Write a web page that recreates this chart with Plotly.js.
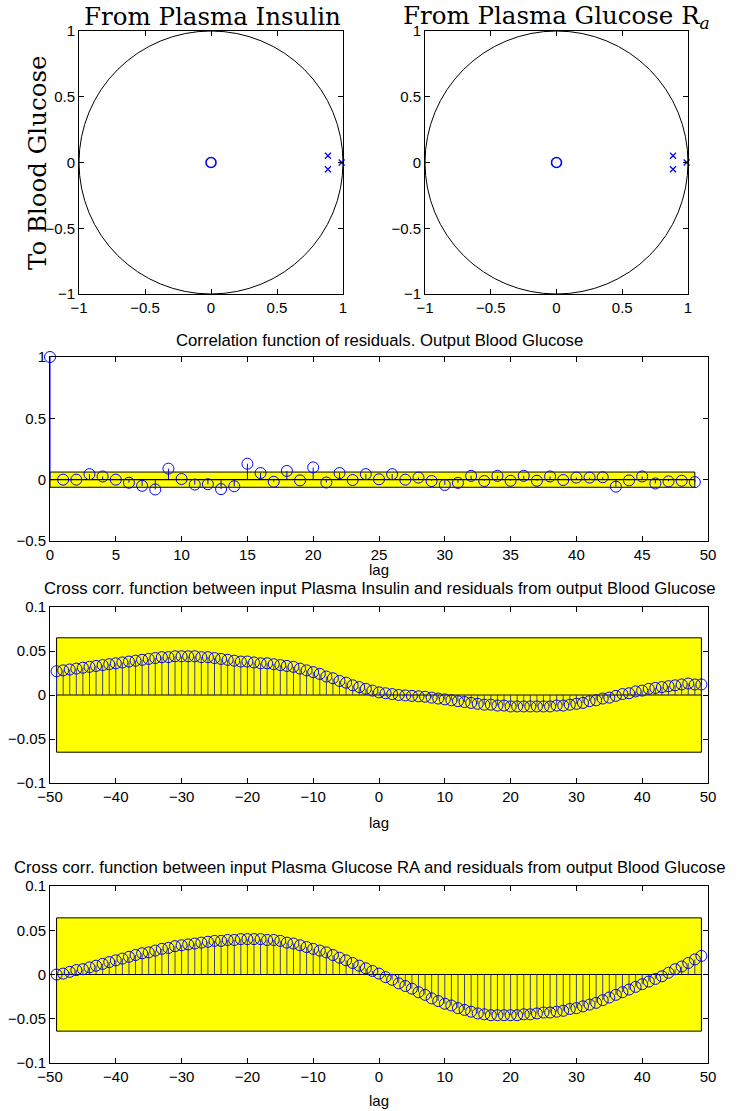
<!DOCTYPE html>
<html>
<head>
<meta charset="utf-8">
<script src="https://cdn.plot.ly/plotly-3.0.1.min.js"></script>
<style>html,body{margin:0;padding:0;background:#fff;}#chart{width:738px;height:1111px;}</style>
</head>
<body>
<div id="chart"></div>
<script>
// ---- Pole-zero data ----
const zerosRe = [0];
const zerosIm = [0];
const polesRe = [0.886, 0.886, 0.99];
const polesIm = [0.051, -0.051, 0];
const pzTicks = [-1, -0.5, 0, 0.5, 1];

// ---- Auto-correlation of residuals ----
const corrLags = [0,1,2,3,4,5,6,7,8,9,10,11,12,13,14,15,16,17,18,19,20,21,22,23,24,25,26,27,28,29,30,31,32,33,34,35,36,37,38,39,40,41,42,43,44,45,46,47,48,49];
const corrVals = [1.0,0.0,0.0,0.045,0.026,0.0,-0.025,-0.05,-0.08,0.09,0.005,-0.04,-0.037,-0.077,-0.054,0.13,0.054,-0.017,0.071,-0.006,0.1,-0.023,0.054,-0.003,0.045,0.003,0.045,0.0,0.017,-0.011,-0.043,-0.026,0.031,-0.011,0.031,-0.009,0.031,-0.009,0.026,-0.003,0.017,0.017,0.02,-0.057,-0.006,0.026,-0.031,-0.014,-0.009,-0.02];
const corrConf = 0.062;

// ---- Cross-correlations ----
const xcLags = [-49,-48,-47,-46,-45,-44,-43,-42,-41,-40,-39,-38,-37,-36,-35,-34,-33,-32,-31,-30,-29,-28,-27,-26,-25,-24,-23,-22,-21,-20,-19,-18,-17,-16,-15,-14,-13,-12,-11,-10,-9,-8,-7,-6,-5,-4,-3,-2,-1,0,1,2,3,4,5,6,7,8,9,10,11,12,13,14,15,16,17,18,19,20,21,22,23,24,25,26,27,28,29,30,31,32,33,34,35,36,37,38,39,40,41,42,43,44,45,46,47,48,49];
const xcInsulinVals = [0.027,0.028,0.029,0.030,0.031,0.032,0.033,0.034,0.035,0.036,0.037,0.038,0.039,0.040,0.041,0.042,0.043,0.043,0.044,0.044,0.044,0.044,0.043,0.043,0.042,0.041,0.040,0.039,0.038,0.038,0.037,0.036,0.036,0.035,0.034,0.033,0.032,0.030,0.028,0.026,0.024,0.021,0.019,0.016,0.014,0.011,0.009,0.007,0.005,0.003,0.002,0.001,0.0,-0.0005,-0.001,-0.0015,-0.002,-0.003,-0.004,-0.005,-0.006,-0.007,-0.008,-0.009,-0.010,-0.011,-0.011,-0.012,-0.012,-0.013,-0.013,-0.013,-0.013,-0.013,-0.013,-0.013,-0.012,-0.012,-0.011,-0.010,-0.009,-0.007,-0.006,-0.004,-0.003,-0.001,0.001,0.002,0.004,0.005,0.007,0.008,0.009,0.010,0.011,0.012,0.013,0.012,0.012];
const xcInsulinConf = 0.065;
const xcGlucoseVals = [0.000,0.001,0.003,0.005,0.006,0.008,0.010,0.012,0.014,0.016,0.018,0.020,0.022,0.024,0.025,0.027,0.029,0.030,0.032,0.033,0.034,0.035,0.036,0.037,0.038,0.038,0.039,0.039,0.040,0.040,0.040,0.040,0.039,0.039,0.038,0.036,0.035,0.033,0.031,0.029,0.027,0.025,0.022,0.019,0.016,0.013,0.010,0.007,0.004,0.001,-0.003,-0.006,-0.010,-0.013,-0.016,-0.020,-0.023,-0.027,-0.030,-0.033,-0.035,-0.038,-0.040,-0.042,-0.044,-0.045,-0.046,-0.046,-0.046,-0.046,-0.046,-0.045,-0.045,-0.044,-0.043,-0.043,-0.042,-0.041,-0.039,-0.038,-0.036,-0.034,-0.032,-0.029,-0.026,-0.023,-0.020,-0.017,-0.014,-0.011,-0.008,-0.005,-0.002,0.002,0.006,0.009,0.013,0.017,0.021];
const xcGlucoseConf = 0.064;

// ---- Text ----
const titlePZ1 = 'From Plasma Insulin';
const titlePZ2 = 'From Plasma Glucose R<sub><i>a</i></sub>';
const ylabPZ = 'To Blood Glucose';
const titleCorr = 'Correlation function of residuals. Output Blood Glucose';
const titleXc1 = 'Cross corr. function between input Plasma Insulin and residuals from output Blood Glucose';
const titleXc2 = 'Cross corr. function between input Plasma Glucose RA and residuals from output Blood Glucose';
const xlabLag = 'lag';

const BLUE = '#0000ff';
const STEM = '#2a2aa0';
const W = 738, H = 1111;
const px = v => v / W;
const py = v => 1 - v / H;

function stems(xs, ys) {
  const sx = [], sy = [];
  xs.forEach((x, i) => { sx.push(x, x, null); sy.push(0, ys[i], null); });
  return { sx, sy };
}

const traces = [];
// pole-zero plots
['', '2'].forEach(s => {
  traces.push({ x: zerosRe, y: zerosIm, xaxis: 'x' + s, yaxis: 'y' + s, type: 'scatter', mode: 'markers',
    marker: { symbol: 'circle-open', size: 10, color: BLUE, line: { width: 1.6, color: BLUE } }, cliponaxis: false, hoverinfo: 'skip' });
  traces.push({ x: polesRe, y: polesIm, xaxis: 'x' + s, yaxis: 'y' + s, type: 'scatter', mode: 'markers',
    marker: { symbol: 'x-thin-open', size: 6, color: BLUE, line: { width: 1.2, color: BLUE } }, cliponaxis: false, hoverinfo: 'skip' });
});

function stemPlot(xs, ys, ax, stemColor, stemWidth) {
  const st = stems(xs, ys);
  traces.push({ x: st.sx, y: st.sy, xaxis: 'x' + ax, yaxis: 'y' + ax, type: 'scatter', mode: 'lines',
    line: { color: stemColor, width: stemWidth }, cliponaxis: false, hoverinfo: 'skip' });
  traces.push({ x: xs, y: ys, xaxis: 'x' + ax, yaxis: 'y' + ax, type: 'scatter', mode: 'markers',
    marker: { symbol: 'circle-open', size: 11, color: BLUE, line: { width: 1, color: BLUE } }, cliponaxis: false, hoverinfo: 'skip' });
}
stemPlot(corrLags, corrVals, '3', BLUE, 1);
stemPlot(xcLags, xcInsulinVals, '4', STEM, 0.9);
stemPlot(xcLags, xcGlucoseVals, '5', STEM, 0.9);

const tickFont = { family: 'Liberation Sans, Arial, sans-serif', size: 15, color: '#000' };
function axis(domain, range, tickvals, anchor, extra) {
  return Object.assign({
    domain: domain, range: range, anchor: anchor, tickvals: tickvals,
    showgrid: false, zeroline: false, showline: true, mirror: 'ticks', linecolor: '#000', linewidth: 1,
    ticks: 'inside', ticklen: 5, tickwidth: 1, tickcolor: '#000', tickfont: tickFont, fixedrange: true
  }, extra || {});
}

const sansTitle = { family: 'Liberation Sans, Arial, sans-serif', size: 16.7, color: '#000' };
const serifTitle = { family: 'DejaVu Serif, serif', size: 24.5, color: '#000' };
const pzY = [py(294), py(31)];
const bandPlotsX = [px(50), px(708)];
const layout = {
  width: W, height: H, margin: { l: 0, r: 0, t: 0, b: 0 },
  paper_bgcolor: '#fff', plot_bgcolor: '#fff', showlegend: false,
  xaxis: axis([px(79), px(343)], [-1, 1], pzTicks, 'y'),
  yaxis: axis(pzY, [-1, 1], pzTicks, 'x'),
  xaxis2: axis([px(425), px(688)], [-1, 1], pzTicks, 'y2'),
  yaxis2: axis(pzY, [-1, 1], pzTicks, 'x2'),
  xaxis3: axis(bandPlotsX, [0, 50], [0,5,10,15,20,25,30,35,40,45,50], 'y3'),
  yaxis3: axis([py(541), py(357)], [-0.5, 1], [-0.5, 0, 0.5, 1], 'x3'),
  xaxis4: axis(bandPlotsX, [-50, 50], [-50,-40,-30,-20,-10,0,10,20,30,40,50], 'y4'),
  yaxis4: axis([py(783), py(607)], [-0.1, 0.1], [-0.1, -0.05, 0, 0.05, 0.1], 'x4'),
  xaxis5: axis(bandPlotsX, [-50, 50], [-50,-40,-30,-20,-10,0,10,20,30,40,50], 'y5'),
  yaxis5: axis([py(1063), py(886)], [-0.1, 0.1], [-0.1, -0.05, 0, 0.05, 0.1], 'x5'),
  shapes: [
    { type: 'circle', xref: 'x', yref: 'y', x0: -1, x1: 1, y0: -1, y1: 1, line: { color: '#000', width: 1 }, layer: 'below' },
    { type: 'circle', xref: 'x2', yref: 'y2', x0: -1, x1: 1, y0: -1, y1: 1, line: { color: '#000', width: 1 }, layer: 'below' },
    { type: 'rect', xref: 'x3', yref: 'y3', x0: corrLags[0], x1: corrLags[corrLags.length - 1], y0: -corrConf, y1: corrConf, fillcolor: '#ffff00', line: { color: '#000', width: 1 }, layer: 'below' },
    { type: 'line', xref: 'x3', yref: 'y3', x0: corrLags[0], x1: corrLags[corrLags.length - 1], y0: 0, y1: 0, line: { color: '#000', width: 1.2 }, layer: 'below' },
    { type: 'rect', xref: 'x4', yref: 'y4', x0: xcLags[0], x1: xcLags[xcLags.length - 1], y0: -xcInsulinConf, y1: xcInsulinConf, fillcolor: '#ffff00', line: { color: '#000', width: 1 }, layer: 'below' },
    { type: 'line', xref: 'x4', yref: 'y4', x0: xcLags[0], x1: xcLags[xcLags.length - 1], y0: 0, y1: 0, line: { color: '#000', width: 1.2 }, layer: 'below' },
    { type: 'rect', xref: 'x5', yref: 'y5', x0: xcLags[0], x1: xcLags[xcLags.length - 1], y0: -xcGlucoseConf, y1: xcGlucoseConf, fillcolor: '#ffff00', line: { color: '#000', width: 1 }, layer: 'below' },
    { type: 'line', xref: 'x5', yref: 'y5', x0: xcLags[0], x1: xcLags[xcLags.length - 1], y0: 0, y1: 0, line: { color: '#000', width: 1.2 }, layer: 'below' }
  ],
  annotations: [
    { text: titlePZ1, xref: 'paper', yref: 'paper', x: px(212), y: py(17), showarrow: false, xanchor: 'center', yanchor: 'middle', font: serifTitle },
    { text: titlePZ2, xref: 'paper', yref: 'paper', x: px(556), y: py(17), showarrow: false, xanchor: 'center', yanchor: 'middle', font: serifTitle },
    { text: ylabPZ, xref: 'paper', yref: 'paper', x: px(38), y: py(163), showarrow: false, xanchor: 'center', yanchor: 'middle', textangle: -90, font: serifTitle },
    { text: titleCorr, xref: 'paper', yref: 'paper', x: px(379), y: py(340), showarrow: false, xanchor: 'center', yanchor: 'middle', font: sansTitle },
    { text: xlabLag, xref: 'paper', yref: 'paper', x: px(379), y: py(569), showarrow: false, xanchor: 'center', yanchor: 'middle', font: tickFont },
    { text: titleXc1, xref: 'paper', yref: 'paper', x: px(380), y: py(588), showarrow: false, xanchor: 'center', yanchor: 'middle', font: sansTitle },
    { text: xlabLag, xref: 'paper', yref: 'paper', x: px(379), y: py(822), showarrow: false, xanchor: 'center', yanchor: 'middle', font: tickFont },
    { text: titleXc2, xref: 'paper', yref: 'paper', x: px(369), y: py(867), showarrow: false, xanchor: 'center', yanchor: 'middle', font: sansTitle },
    { text: xlabLag, xref: 'paper', yref: 'paper', x: px(379), y: py(1100), showarrow: false, xanchor: 'center', yanchor: 'middle', font: tickFont }
  ]
};

Plotly.newPlot('chart', traces, layout, { staticPlot: true, displayModeBar: false });
</script>
</body>
</html>
